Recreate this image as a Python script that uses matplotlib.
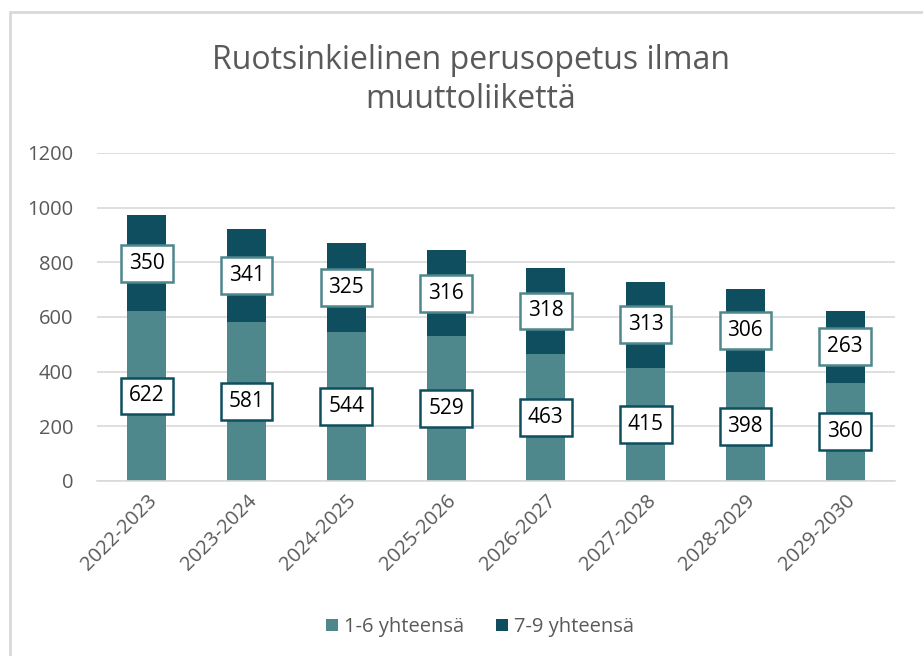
import matplotlib.pyplot as plt
import numpy as np
from matplotlib.patches import Rectangle

# data
years = ["2022-2023", "2023-2024", "2024-2025", "2025-2026",
         "2026-2027", "2027-2028", "2028-2029", "2029-2030"]
ala = [622, 581, 544, 529, 463, 415, 398, 360]   # 1-6 yhteensä
yla = [350, 341, 325, 316, 318, 313, 306, 263]   # 7-9 yhteensä

c_light = "#4E878C"
c_dark = "#0F4E5E"
grey = "#595959"

plt.rcParams['font.family'] = ['Open Sans', 'DejaVu Sans']

fig = plt.figure(figsize=(9.23, 6.56), dpi=100)
ax = fig.add_axes([97 / 923, 1 - 481 / 656, 798 / 923, 328 / 656])

# chart frame (goes off the image at right/bottom)
fig.patches.append(Rectangle((10 / 923, -0.05), 1.0, 1 - 12 / 656 + 0.05,
                             transform=fig.transFigure, fill=False,
                             edgecolor="#D9D9D9", lw=2))

x = np.arange(len(years))
w = 0.39
ax.bar(x, ala, w, color=c_light, label="1-6 yhteensä", zorder=2)
ax.bar(x, yla, w, bottom=ala, color=c_dark, label="7-9 yhteensä", zorder=2)

for i in range(len(years)):
    ax.text(x[i], ala[i] / 2, str(ala[i]), ha="center", va="center",
            fontsize=15, color="#000000", zorder=3,
            bbox=dict(boxstyle="square,pad=0.38", fc="white", ec=c_dark, lw=1.8))
    ax.text(x[i], ala[i] + yla[i] / 2, str(yla[i]), ha="center", va="center",
            fontsize=15, color="#000000", zorder=3,
            bbox=dict(boxstyle="square,pad=0.38", fc="white", ec=c_light, lw=1.8))

ax.set_xlim(-0.5, len(years) - 0.5)
ax.set_ylim(0, 1200)
ax.set_yticks(range(0, 1201, 200))
ax.yaxis.grid(True, color="#D9D9D9", lw=1.2, zorder=0)
ax.set_axisbelow(True)
for s in ["top", "right", "left"]:
    ax.spines[s].set_visible(False)
ax.spines["bottom"].set_color("#D9D9D9")
ax.spines["bottom"].set_linewidth(1.2)
ax.tick_params(length=0, labelsize=14.5, labelcolor=grey)
ax.tick_params(axis="y", pad=17)
ax.tick_params(axis="x", pad=7)
ax.set_xticks(x)
ax.set_xticklabels(years, rotation=45, ha="right", rotation_mode="anchor")

fig.text(471 / 923, 1 - 80 / 656, "Ruotsinkielinen perusopetus ilman\nmuuttoliikettä",
         ha="center", va="center", fontsize=23, color=grey, linespacing=1.25)

fig.legend(loc="center", bbox_to_anchor=(480 / 923, 1 - 627 / 656), ncol=2,
           frameon=False, fontsize=14.5, labelcolor=grey, handlelength=0.6,
           handleheight=0.6, columnspacing=1.6, handletextpad=0.3)

fig.savefig("out.png", dpi=100)
